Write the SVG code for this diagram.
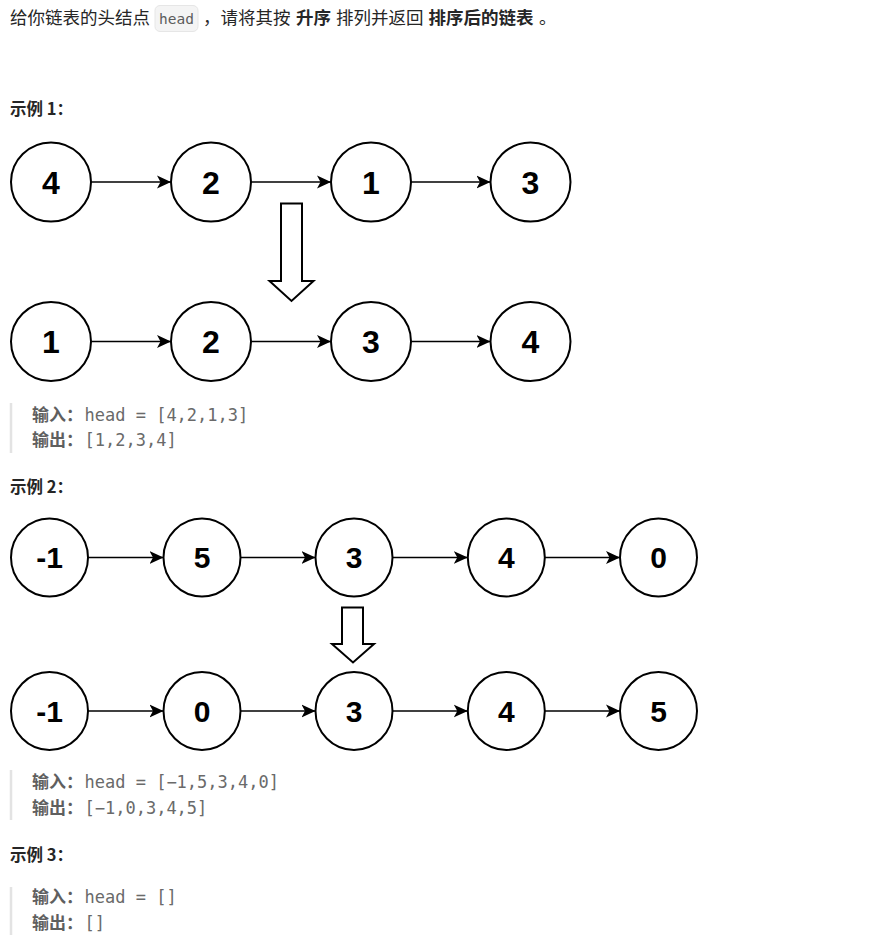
<svg xmlns="http://www.w3.org/2000/svg" width="882" height="935" viewBox="0 0 882 935">
<style>
.t{font-family:"Noto Sans CJK SC","Liberation Sans",sans-serif;font-size:17.5px;fill:#262626}
.b{font-weight:bold}
.h{font-family:"Noto Sans CJK SC","Liberation Sans",sans-serif;font-size:16.5px;font-weight:bold;fill:#262626}
.lab{font-family:"Noto Sans CJK SC",sans-serif;font-size:17px;font-weight:bold;fill:#5f5f5f}
.code{font-family:"DejaVu Sans Mono","Liberation Mono",monospace;font-size:17px;fill:#6a6a6a}
.bar{stroke:#e3e3e3;stroke-width:2.5}
.node{fill:#fff;stroke:#000;stroke-width:2}
.num{font-family:"Liberation Sans",Arial,sans-serif;font-weight:bold;fill:#000;text-anchor:middle}
.n1{font-size:32px}
.n2{font-size:30px}
.edge{stroke:#000;stroke-width:1.6;fill:none;marker-end:url(#ah)}
.down{fill:#fff;stroke:#000;stroke-width:2}
</style>
<defs>
<marker id="ah" markerUnits="userSpaceOnUse" markerWidth="14" markerHeight="14" viewBox="0 0 12 12" refX="12" refY="6" orient="auto">
<path d="M0,0.5 L12,6 L0,11.5 L3,6 z" fill="#000"/>
</marker>
</defs>
<rect width="882" height="935" fill="#fff"/>
<g id="title">
<text class="t" x="10" y="24">给你链表的头结点</text>
<rect x="155" y="5.5" width="43" height="26" rx="5" fill="#f4f4f4" stroke="#e6e6e6" stroke-width="1"/>
<text x="176.5" y="24" font-family="DejaVu Sans Mono,monospace" font-size="14.5" fill="#5c5c5c" text-anchor="middle">head</text>
<text class="t" x="203" y="24">，请将其按</text>
<text class="t b" x="296" y="24">升序</text>
<text class="t" x="336" y="24">排列并返回</text>
<text class="t b" x="428.5" y="24">排序后的链表</text>
<text class="t" x="539" y="24">。</text>
</g>
<g id="heading1"><text class="h" x="10" y="115">示例 1：</text></g>
<g id="heading2"><text class="h" x="10" y="493">示例 2：</text></g>
<g id="heading3"><text class="h" x="10" y="861">示例 3：</text></g>
<g id="code1">
<line class="bar" x1="11" y1="403" x2="11" y2="453"/>
<text class="lab" x="32" y="421">输入：</text><text class="code" x="84.5" y="421">head = [4,2,1,3]</text>
<text class="lab" x="32" y="446">输出：</text><text class="code" x="84.5" y="446">[1,2,3,4]</text>
</g>
<g id="code2">
<line class="bar" x1="11" y1="770" x2="11" y2="820"/>
<text class="lab" x="32" y="788">输入：</text><text class="code" x="84.5" y="788">head = [−1,5,3,4,0]</text>
<text class="lab" x="32" y="813.5">输出：</text><text class="code" x="84.5" y="813.5">[−1,0,3,4,5]</text>
</g>
<g id="code3">
<line class="bar" x1="11" y1="887" x2="11" y2="937"/>
<text class="lab" x="32" y="903">输入：</text><text class="code" x="84.5" y="903">head = []</text>
<text class="lab" x="32" y="928.5">输出：</text><text class="code" x="84.5" y="928.5">[]</text>
</g>
<g id="connectors">
<line class="edge" x1="91" y1="182" x2="171" y2="182"/>
<line class="edge" x1="251" y1="182" x2="331" y2="182"/>
<line class="edge" x1="411" y1="182" x2="490.5" y2="182"/>
<line class="edge" x1="91" y1="341.5" x2="171" y2="341.5"/>
<line class="edge" x1="251" y1="341.5" x2="331" y2="341.5"/>
<line class="edge" x1="411" y1="341.5" x2="490.5" y2="341.5"/>
<line class="edge" x1="88" y1="557.5" x2="163.5" y2="557.5"/>
<line class="edge" x1="240.5" y1="557.5" x2="315.5" y2="557.5"/>
<line class="edge" x1="392.5" y1="557.5" x2="467.8" y2="557.5"/>
<line class="edge" x1="544.8" y1="557.5" x2="620" y2="557.5"/>
<line class="edge" x1="88" y1="711" x2="163.5" y2="711"/>
<line class="edge" x1="240.5" y1="711" x2="315.5" y2="711"/>
<line class="edge" x1="392.5" y1="711" x2="467.8" y2="711"/>
<line class="edge" x1="544.8" y1="711" x2="620" y2="711"/>
</g>
<g id="down1"><polygon class="down" points="281,203.5 302,203.5 302,281 313.5,281 291.5,301 269.5,281 281,281"/></g>
<g id="down2"><polygon class="down" points="342,607.5 363,607.5 363,644 374,644 353,662.5 332,644 342,644"/></g>
<g id="ex1-in-4"><ellipse class="node" cx="51" cy="182" rx="40" ry="39.5"/><text class="num n1" x="51" y="193.5">4</text></g>
<g id="ex1-in-2"><ellipse class="node" cx="211" cy="182" rx="40" ry="39.5"/><text class="num n1" x="211" y="193.5">2</text></g>
<g id="ex1-in-1"><ellipse class="node" cx="371" cy="182" rx="40" ry="39.5"/><text class="num n1" x="371" y="193.5">1</text></g>
<g id="ex1-in-3"><ellipse class="node" cx="530.5" cy="182" rx="40" ry="39.5"/><text class="num n1" x="530.5" y="193.5">3</text></g>
<g id="ex1-out-1"><ellipse class="node" cx="51" cy="341.5" rx="40" ry="39.5"/><text class="num n1" x="51" y="353">1</text></g>
<g id="ex1-out-2"><ellipse class="node" cx="211" cy="341.5" rx="40" ry="39.5"/><text class="num n1" x="211" y="353">2</text></g>
<g id="ex1-out-3"><ellipse class="node" cx="371" cy="341.5" rx="40" ry="39.5"/><text class="num n1" x="371" y="353">3</text></g>
<g id="ex1-out-4"><ellipse class="node" cx="530.5" cy="341.5" rx="40" ry="39.5"/><text class="num n1" x="530.5" y="353">4</text></g>
<g id="ex2-in-m1"><ellipse class="node" cx="49.5" cy="557.5" rx="38.5" ry="39"/><text class="num n2" x="49.5" y="568.3">-1</text></g>
<g id="ex2-in-5"><ellipse class="node" cx="202" cy="557.5" rx="38.5" ry="39"/><text class="num n2" x="202" y="568.3">5</text></g>
<g id="ex2-in-3"><ellipse class="node" cx="354" cy="557.5" rx="38.5" ry="39"/><text class="num n2" x="354" y="568.3">3</text></g>
<g id="ex2-in-4"><ellipse class="node" cx="506.3" cy="557.5" rx="38.5" ry="39"/><text class="num n2" x="506.3" y="568.3">4</text></g>
<g id="ex2-in-0"><ellipse class="node" cx="658.5" cy="557.5" rx="38.5" ry="39"/><text class="num n2" x="658.5" y="568.3">0</text></g>
<g id="ex2-out-m1"><ellipse class="node" cx="49.5" cy="711" rx="38.5" ry="39"/><text class="num n2" x="49.5" y="721.8">-1</text></g>
<g id="ex2-out-0"><ellipse class="node" cx="202" cy="711" rx="38.5" ry="39"/><text class="num n2" x="202" y="721.8">0</text></g>
<g id="ex2-out-3"><ellipse class="node" cx="354" cy="711" rx="38.5" ry="39"/><text class="num n2" x="354" y="721.8">3</text></g>
<g id="ex2-out-4"><ellipse class="node" cx="506.3" cy="711" rx="38.5" ry="39"/><text class="num n2" x="506.3" y="721.8">4</text></g>
<g id="ex2-out-5"><ellipse class="node" cx="658.5" cy="711" rx="38.5" ry="39"/><text class="num n2" x="658.5" y="721.8">5</text></g>
</svg>
